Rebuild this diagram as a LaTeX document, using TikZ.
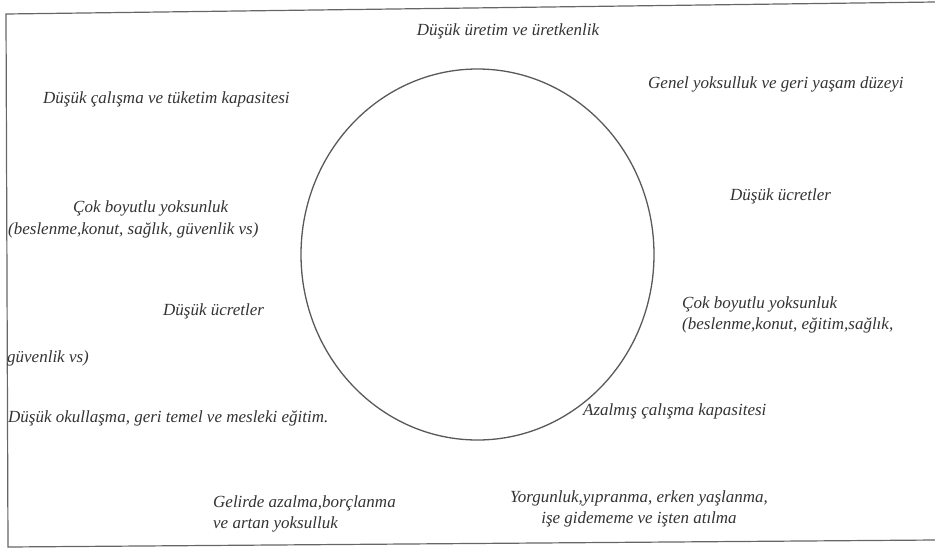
\documentclass[tikz,border=0pt]{standalone}
\usepackage{fontspec}
\setmainfont{Liberation Serif}
\usetikzlibrary{shapes.geometric}
\begin{document}
\begin{tikzpicture}[x=1pt,y=-1pt,
  lbl/.style={inner sep=0pt,font=\fontsize{17}{21}\selectfont\itshape,text=black!80},
  frameline/.style={draw=black!60,line width=1.2pt},
  ring/.style={draw=black!65,line width=1.3pt}]
\useasboundingbox (0,0) rectangle (935,550);
% frame (no right side)
\coordinate (tl) at (6,14);
\coordinate (tr) at (935,2);
\coordinate (bl) at (8,547);
\coordinate (br) at (935,540);
\draw[frameline] (tr) -- (tl) -- (bl) -- (br);
% circle
\node[ring,ellipse,minimum width=353pt,minimum height=371pt,inner sep=0pt] (c) at (477.5,254.5) {};
% labels
\node[lbl,anchor=base] (t1) at (508,35) {Düşük üretim ve üretkenlik};
\node[lbl,anchor=base west] (t2) at (43,103) {Düşük çalışma ve tüketim kapasitesi};
\node[lbl,anchor=base west] (t3a) at (73,212) {Çok boyutlu yoksunluk};
\node[lbl,anchor=base west] (t3b) at (8,234) {(beslenme,konut, sağlık, güvenlik vs)};
\node[lbl,anchor=base west] (t4) at (163,315) {Düşük ücretler};
\node[lbl,anchor=base west] (t5) at (7,362) {güvenlik vs)};
\node[lbl,anchor=base west] (t6) at (8,422) {Düşük okullaşma, geri temel ve mesleki eğitim.};
\node[lbl,anchor=base west] (t7a) at (213,507) {Gelirde azalma,borçlanma};
\node[lbl,anchor=base west] (t7b) at (213,528) {ve artan yoksulluk};
\node[lbl,anchor=base west] (t8) at (648,88) {Genel yoksulluk ve geri yaşam düzeyi};
\node[lbl,anchor=base west] (t9) at (730,200) {Düşük ücretler};
\node[lbl,anchor=base west] (t10a) at (682,308) {Çok boyutlu yoksunluk};
\node[lbl,anchor=base west] (t10b) at (682,329) {(beslenme,konut, eğitim,sağlık,};
\node[lbl,anchor=base west] (t11) at (583,415) {Azalmış çalışma kapasitesi};
\node[lbl,anchor=base] (t12a) at (639,502) {Yorgunluk,yıpranma, erken yaşlanma,};
\node[lbl,anchor=base] (t12b) at (639,523) {işe gidememe ve işten atılma};
\end{tikzpicture}
\end{document}
